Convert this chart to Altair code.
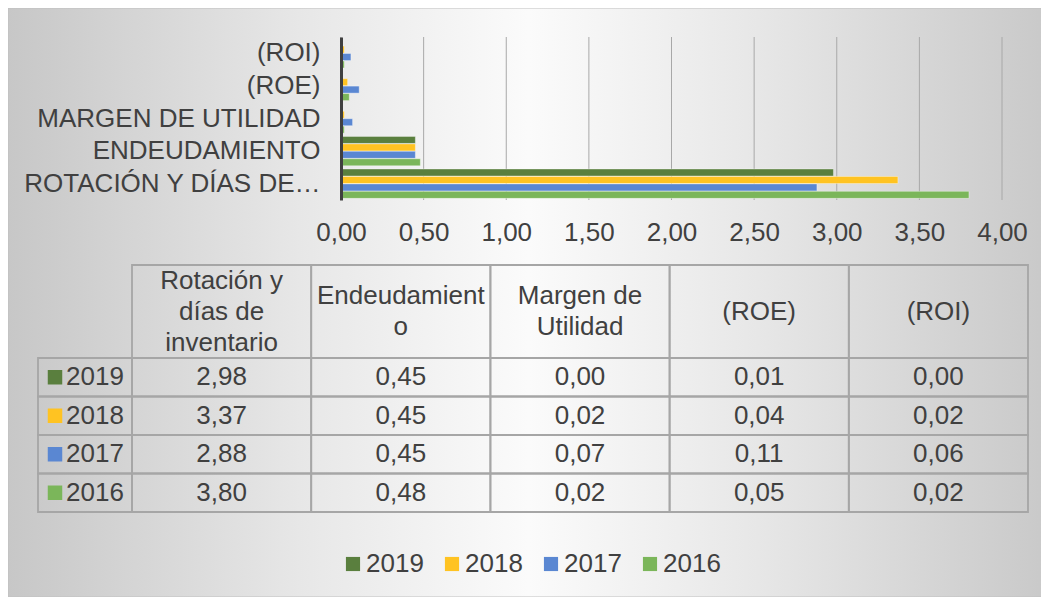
import altair as alt
import pandas as pd

W, H = 1033, 589
FONT = "Liberation Sans"
TXT = "#404040"
FS = 26

YEARS = ["2019", "2018", "2017", "2016"]
YEAR_COLORS = ["#5A7F3E", "#FFC322", "#5A87D2", "#7BB65A"]

CATEGORIES = ["ROTACIÓN Y DÍAS DE INVENTARIO", "ENDEUDAMIENTO", "MARGEN DE UTILIDAD", "(ROE)", "(ROI)"]
HEADERS = [["Rotación y", "días de", "inventario"], ["Endeudamient", "o"], ["Margen de", "Utilidad"], ["(ROE)"], ["(ROI)"]]
VALUES_2019 = [2.98, 0.45, 0.00, 0.01, 0.00]
VALUES_2018 = [3.37, 0.45, 0.02, 0.04, 0.02]
VALUES_2017 = [2.88, 0.45, 0.07, 0.11, 0.06]
VALUES_2016 = [3.80, 0.48, 0.02, 0.05, 0.02]
X_TICKS = [0.0, 0.5, 1.0, 1.5, 2.0, 2.5, 3.0, 3.5, 4.0]

SERIES = dict(zip(YEARS, [VALUES_2019, VALUES_2018, VALUES_2017, VALUES_2016]))

# ---- data tables built from the arrays ----
bar_rows = []
for y in YEARS:
    for c, v in zip(CATEGORIES, SERIES[y]):
        bar_rows.append({"cat": c, "year": y, "value": v})
bar_df = pd.DataFrame(bar_rows)

def fmt(v):
    return f"{v:.2f}".replace(".", ",")

LINE_STEP = 31.0 / 93.0  # header line spacing in header-row units

cell_rows, head_rows, val_rows, key_rows = [], [], [], []
for j, lines in enumerate(HEADERS):
    cell_rows.append({"c0": j + 1, "c1": j + 2, "r0": 0, "r1": 1})
    n = len(lines)
    for k, line in enumerate(lines):
        head_rows.append({"xc": j + 1.5, "yc": 0.5 + (k - (n - 1) / 2) * LINE_STEP, "text": line})
for i, y in enumerate(YEARS):
    cell_rows.append({"c0": 0, "c1": 1, "r0": i + 1, "r1": i + 2})
    key_rows.append({"kx": 0, "yc": i + 1.5, "year": y})
    for j, v in enumerate(SERIES[y]):
        cell_rows.append({"c0": j + 1, "c1": j + 2, "r0": i + 1, "r1": i + 2})
        val_rows.append({"xc": j + 1.5, "yc": i + 1.5, "text": fmt(v)})
cell_df = pd.DataFrame(cell_rows)
head_df = pd.DataFrame(head_rows)
val_df = pd.DataFrame(val_rows)
key_df = pd.DataFrame(key_rows)
tick_df = pd.DataFrame({"t": X_TICKS})

# ---- scales ----
bar_x = alt.Scale(domain=[0, 4], range=[333, 994], nice=False, zero=False)
bar_y = alt.Scale(domain=CATEGORIES[::-1], range=[29, 192], paddingInner=0.1, paddingOuter=0.05)
tx = alt.Scale(domain=[0, 1, 6], range=[30, 124, 1020], nice=False, zero=False)
ty = alt.Scale(domain=[0, 1, 5], range=[257, 350, 504], nice=False, zero=False)
color_scale = alt.Scale(domain=YEARS, range=YEAR_COLORS)

# ---- background ----
bg = alt.Chart(pd.DataFrame({"a": [0]})).mark_rect(
    fill=alt.LinearGradient(
        gradient="linear", x1=0, y1=0, x2=1, y2=0,
        stops=[
            alt.GradientStop(color="#c7c7c7", offset=0),
            alt.GradientStop(color="#e7e7e7", offset=0.28),
            alt.GradientStop(color="#fbfbfb", offset=0.5),
            alt.GradientStop(color="#e7e7e7", offset=0.72),
            alt.GradientStop(color="#c9c9c9", offset=1),
        ],
    ),
    stroke="#c0c0c0", strokeWidth=1,
).encode(x=alt.value(0), x2=alt.value(W + 8), y=alt.value(0), y2=alt.value(H))

# ---- gridlines ----
grid = alt.Chart(tick_df).mark_rule(color="#a8a8a8", strokeWidth=1).encode(
    x=alt.X("t:Q", scale=bar_x, axis=None),
    y=alt.value(29), y2=alt.value(192),
)

# ---- bars ----
bars = alt.Chart(bar_df).mark_bar(stroke="white", strokeOpacity=0.35, strokeWidth=1).encode(
    x=alt.X("value:Q", scale=bar_x,
            axis=alt.Axis(orient="bottom", offset=192 - H, values=X_TICKS,
                          labelExpr="replace(format(datum.value, '.2f'), '.', ',')",
                          grid=False, domain=False, ticks=False, labelFontSize=FS,
                          labelColor=TXT, labelFont=FONT, labelPadding=19,
                          labelFlush=False, labelOverlap=False, title=None, zindex=1)),
    y=alt.Y("cat:N", scale=bar_y, sort=CATEGORIES[::-1],
            axis=alt.Axis(orient="left", offset=-333, domainColor="#404040", domainWidth=3,
                          ticks=False, labelFontSize=FS, labelColor=TXT, labelFont=FONT,
                          labelPadding=21, labelLimit=500, title=None, zindex=1,
                          labelExpr="datum.label == 'ROTACIÓN Y DÍAS DE INVENTARIO' ? 'ROTACIÓN Y DÍAS DE…' : datum.label")),
    yOffset=alt.YOffset("year:N", sort=YEARS, scale=alt.Scale(paddingInner=0.06)),
    color=alt.Color("year:N", scale=color_scale, sort=YEARS,
                    legend=alt.Legend(orient="none", legendX=332, legendY=543,
                                      direction="horizontal", title=None,
                                      symbolType="square", symbolSize=200,
                                      symbolStrokeWidth=0,
                                      labelFontSize=FS, labelColor=TXT, labelFont=FONT,
                                      columnPadding=15, labelOffset=0)),
)

# ---- data table ----
cells = alt.Chart(cell_df).mark_rect(filled=False, stroke="#a6a6a6", strokeWidth=1.8).encode(
    x=alt.X("c0:Q", scale=tx, axis=None), x2="c1:Q",
    y=alt.Y("r0:Q", scale=ty, axis=None), y2="r1:Q",
)

heads = alt.Chart(head_df).mark_text(
    fontSize=FS, color=TXT, font=FONT, align="center", baseline="middle",
).encode(
    x=alt.X("xc:Q", scale=tx, axis=None),
    y=alt.Y("yc:Q", scale=ty, axis=None),
    text="text:N",
)

vals = alt.Chart(val_df).mark_text(
    fontSize=FS, color=TXT, font=FONT, align="center", baseline="middle",
).encode(
    x=alt.X("xc:Q", scale=tx, axis=None),
    y=alt.Y("yc:Q", scale=ty, axis=None),
    text="text:N",
)

key_sq = alt.Chart(key_df).mark_square(size=210, opacity=1, xOffset=17).encode(
    x=alt.X("kx:Q", scale=tx, axis=None),
    y=alt.Y("yc:Q", scale=ty, axis=None),
    color=alt.Color("year:N", scale=color_scale, legend=None),
)

key_txt = alt.Chart(key_df).mark_text(
    fontSize=FS, color=TXT, font=FONT, align="left", baseline="middle", xOffset=28,
).encode(
    x=alt.X("kx:Q", scale=tx, axis=None),
    y=alt.Y("yc:Q", scale=ty, axis=None),
    text="year:N",
)

chart = alt.layer(bg, cells, grid, bars, heads, vals, key_sq, key_txt).resolve_scale(
    x="independent", y="independent"
).properties(
    width=W, height=H, padding=0,
    autosize=alt.AutoSizeParams(type="none"),
).configure(font=FONT).configure_view(strokeWidth=0)

chart.save("out.html", embed_options={"renderer": "svg", "actions": False})
